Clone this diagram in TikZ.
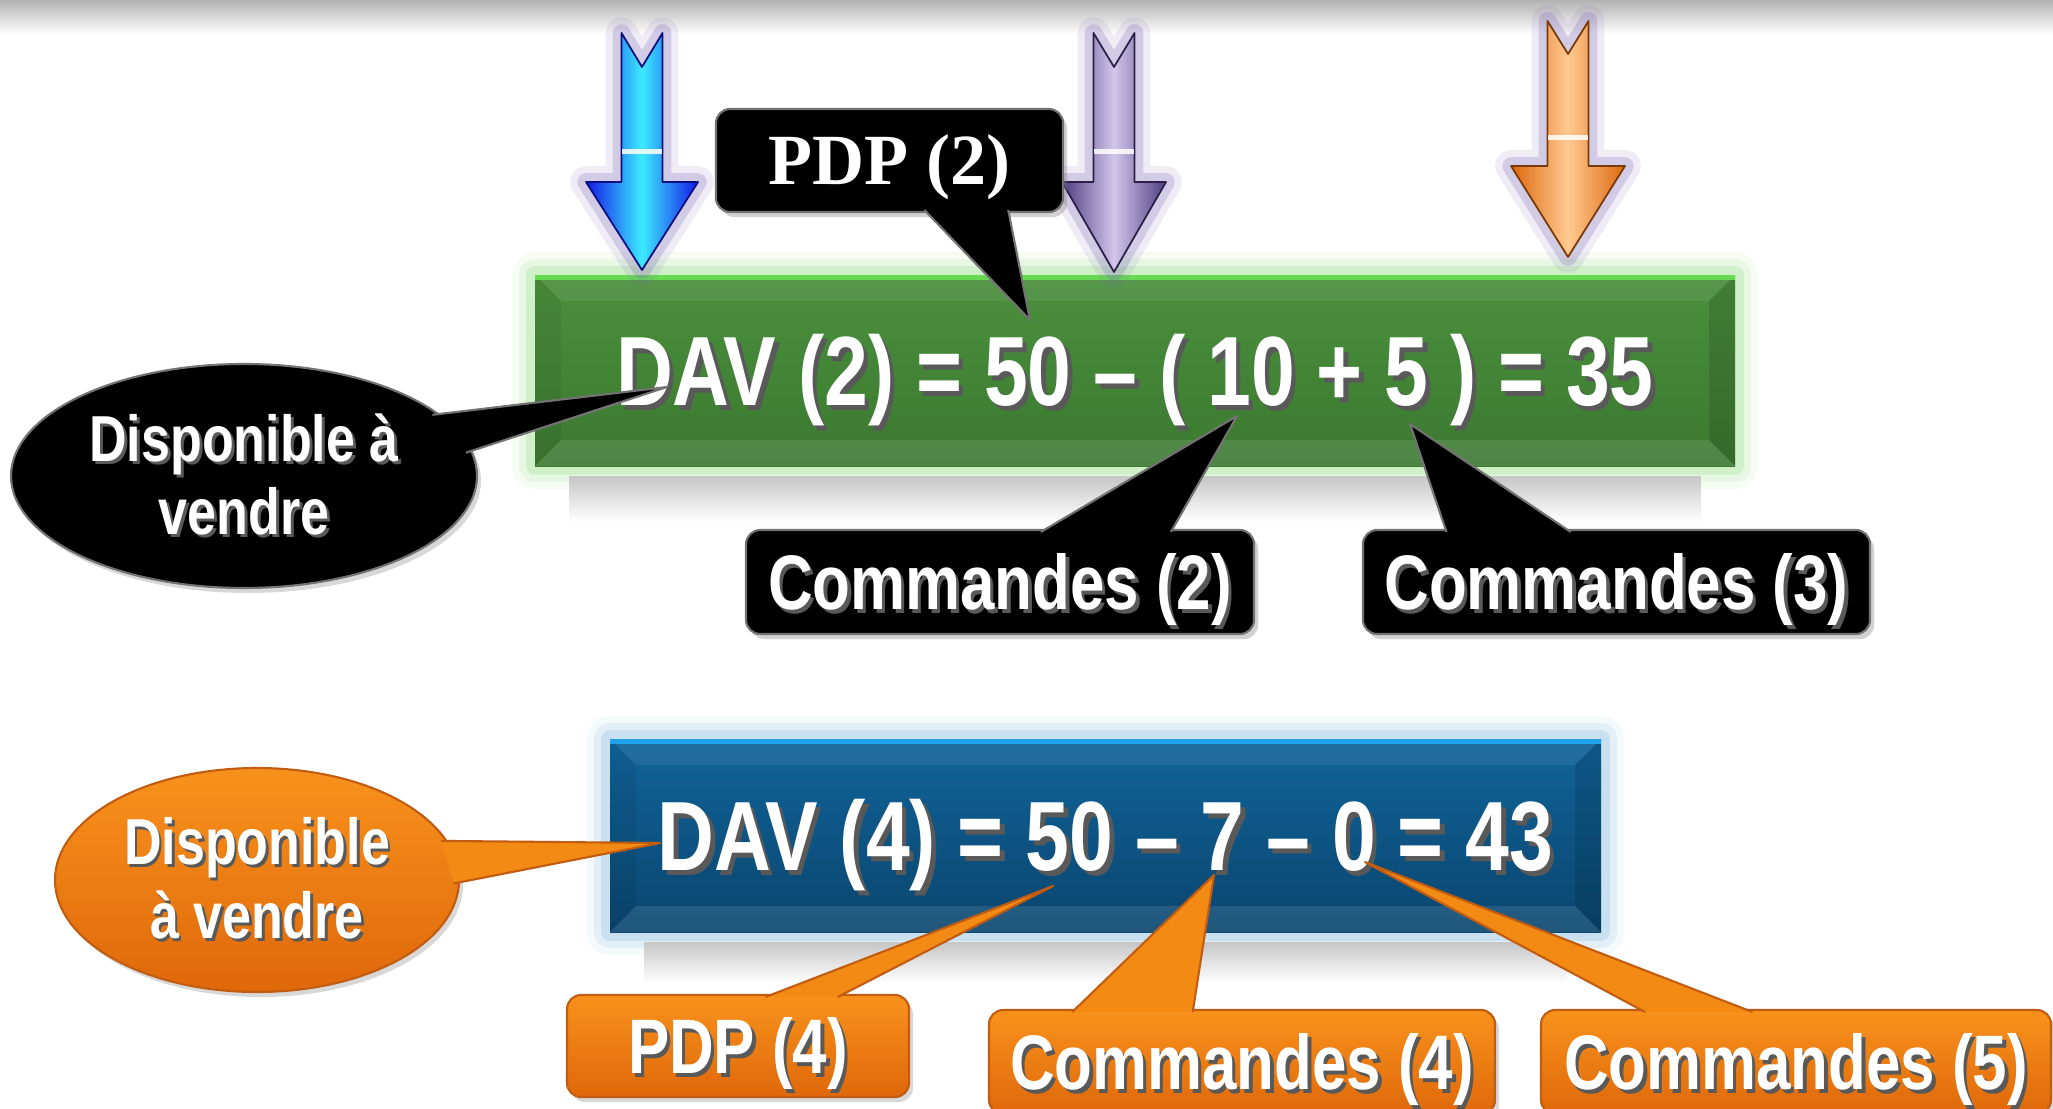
\documentclass[tikz,border=0pt]{standalone}
\usepackage{fontspec}
\usetikzlibrary{calc,shapes.geometric,shadows}

\newfontfamily\narrowsf{Liberation Sans}[FakeStretch=0.8]
\newfontfamily\tagserif{Liberation Serif}

\definecolor{eqgreentop}{HTML}{4B903D}
\definecolor{eqgreenbot}{HTML}{3B7930}
\definecolor{greenrim}{HTML}{68DA52}
\definecolor{greenglow}{HTML}{8EDF7C}
\definecolor{eqbluetop}{HTML}{10649A}
\definecolor{eqbluebot}{HTML}{0A456E}
\definecolor{bluerim}{HTML}{20A2EA}
\definecolor{blueglow}{HTML}{7DB6DE}
\definecolor{tagorangetop}{HTML}{F8921C}
\definecolor{tagorangebot}{HTML}{DF680A}
\definecolor{tagorangeline}{HTML}{C25C10}
\definecolor{tailorange}{HTML}{F38A14}
\definecolor{arrowhalo}{HTML}{7E6AB6}
\definecolor{arrowblue}{HTML}{1418E8}
\definecolor{arrowcyan}{HTML}{3CEBFF}
\definecolor{arrowviolet}{HTML}{4E3C82}
\definecolor{arrowlilac}{HTML}{D2C6EA}
\definecolor{arroworange}{HTML}{DC680E}
\definecolor{arrowpeach}{HTML}{FFC990}

% white lettering over a dark offset copy
\newcommand{\shadowtext}[1]{\makebox[0pt][l]{\hspace{0.045em}\raisebox{-0.045em}{\textcolor{black!65}{#1}}}#1}

\begin{document}
\begin{tikzpicture}[x=1cm, y=1cm, font=\narrowsf\bfseries,
  eqbox/.style={inner sep=0pt, text=white, font=\narrowsf\bfseries\fontsize{28pt}{32pt}\selectfont, text height=20pt, text depth=0pt},
  boxglow/.style={preaction={draw=#1, line width=13pt, opacity=0.08, line join=round},
                  preaction={draw=#1, line width=9pt, opacity=0.14, line join=round},
                  preaction={draw=#1, line width=5pt, opacity=0.25, line join=round}},
  bevel/.style={path picture={
      \coordinate (nw) at (path picture bounding box.north west);
      \coordinate (ne) at (path picture bounding box.north east);
      \coordinate (sw) at (path picture bounding box.south west);
      \coordinate (se) at (path picture bounding box.south east);
      \fill[white, opacity=0.07] (nw) -- (ne) -- ($(ne)+(-0.26,-0.26)$) -- ($(nw)+(0.26,-0.26)$) -- cycle;
      \fill[black, opacity=0.06] (nw) -- ($(nw)+(0.26,-0.26)$) -- ($(sw)+(0.26,0.26)$) -- (sw) -- cycle;
      \fill[black, opacity=0.12] (ne) -- (se) -- ($(se)+(-0.26,0.26)$) -- ($(ne)+(-0.26,-0.26)$) -- cycle;
      \fill[white, opacity=0.10] (sw) -- (se) -- ($(se)+(-0.26,0.26)$) -- ($(sw)+(0.26,0.26)$) -- cycle;
      \fill[#1] (nw) rectangle ($(ne)+(0,-0.05)$);
  }},
  tagfont/.style={font=\narrowsf\bfseries\fontsize{22pt}{26pt}\selectfont, text height=15.7pt, text depth=0pt},
  ovalfont/.style={font=\narrowsf\bfseries\fontsize{18.5pt}{21pt}\selectfont, align=center},
  tagblack/.style={rounded corners=4pt, fill=black, draw=black!55, line width=0.6pt, text=white, inner sep=0pt,
                   drop shadow={opacity=0.35, shadow xshift=0.04cm, shadow yshift=-0.05cm}},
  tagorange/.style={rounded corners=4pt, top color=tagorangetop, bottom color=tagorangebot, draw=tagorangeline,
                    line width=0.6pt, text=white, inner sep=0pt,
                    drop shadow={opacity=0.3, shadow xshift=0.04cm, shadow yshift=-0.05cm}},
  blacktail/.style={fill=black, draw=black!55, line width=0.6pt, line join=round},
  orangetail/.style={fill=tailorange, draw=tagorangeline, line width=0.6pt, line join=round},
  arrowbody/.style 2 args={preaction={draw=arrowhalo, line width=9pt, opacity=0.12, line join=round},
                           preaction={draw=arrowhalo, line width=5pt, opacity=0.25, line join=round},
                           left color=#1, right color=#1, middle color=#2, draw=#1!55!black,
                           line width=0.5pt, line join=round}]

\useasboundingbox (0,0) rectangle (20.53,-11.08);
\fill[white] (0,0) rectangle (20.53,-11.08);

% top rule fading into the page
\shade[top color=black!30, bottom color=white] (0,0) rectangle (20.53,-0.34);

% ==================== EQUATION BOXES ====================
\node[eqbox, top color=eqgreentop, bottom color=eqgreenbot, boxglow=greenglow, bevel=greenrim,
      minimum width=12.00cm, minimum height=1.91cm] (dav2) at (11.35,-3.705)
      {\shadowtext{DAV (2) = 50 – ( 10 + 5 ) = 35}};
\shade[top color=black!22, bottom color=white] ($(dav2.south west)+(0.35,-0.1)$) rectangle ($(dav2.south east)+(-0.35,-0.55)$);

\node[eqbox, top color=eqbluetop, bottom color=eqbluebot, boxglow=blueglow, bevel=bluerim,
      minimum width=9.91cm, minimum height=1.93cm] (dav4) at (11.055,-8.355)
      {\shadowtext{DAV (4) = 50 – 7 – 0 = 43}};
\shade[top color=black!22, bottom color=white] ($(dav4.south west)+(0.35,-0.1)$) rectangle ($(dav4.south east)+(-0.35,-0.5)$);

% ==================== ARROWS ====================
% blue
\begin{scope}[shift={(6.42,-2.70)}]
  \draw[arrowbody={arrowblue}{arrowcyan}] (-0.205,2.37) -- (0,2.03) -- (0.205,2.37) -- (0.205,0.88) -- (0.56,0.88)
    -- (0,0) -- (-0.56,0.88) -- (-0.205,0.88) -- cycle;
  \fill[white, opacity=0.85] (-0.2,1.21) rectangle (0.2,1.16);
\end{scope}

% violet
\begin{scope}[shift={(11.14,-2.72)}]
  \draw[arrowbody={arrowviolet}{arrowlilac}] (-0.205,2.39) -- (0,2.05) -- (0.205,2.39) -- (0.205,0.90) -- (0.52,0.90)
    -- (0,0) -- (-0.52,0.90) -- (-0.205,0.90) -- cycle;
  \fill[white, opacity=0.85] (-0.2,1.23) rectangle (0.2,1.18);
\end{scope}

% orange
\begin{scope}[shift={(15.68,-2.57)}]
  \draw[arrowbody={arroworange}{arrowpeach}] (-0.205,2.36) -- (0,2.03) -- (0.205,2.36) -- (0.205,0.91) -- (0.57,0.91)
    -- (0,0) -- (-0.57,0.91) -- (-0.205,0.91) -- cycle;
  \fill[white, opacity=0.85] (-0.2,1.22) rectangle (0.2,1.17);
\end{scope}

% ==================== BLACK CALLOUTS ====================
\node[tagblack, font=\tagserif\bfseries\fontsize{20.5pt}{24pt}\selectfont, text height=13.6pt, text depth=0pt,
      minimum width=3.47cm, minimum height=1.03cm] (pdp2) at (8.895,-1.605) {PDP (2)};
\node[tagblack, tagfont, minimum width=5.08cm, minimum height=1.04cm] (cmd2) at (10.00,-5.82) {\shadowtext{Commandes (2)}};
\node[tagblack, tagfont, minimum width=5.07cm, minimum height=1.04cm] (cmd3) at (16.165,-5.82) {\shadowtext{Commandes (3)}};
\node[ellipse, fill=black, draw=black!55, line width=0.6pt, text=white, inner sep=0pt, ovalfont,
      minimum width=4.66cm, minimum height=2.24cm,
      drop shadow={opacity=0.3, shadow xshift=0.04cm, shadow yshift=-0.05cm}] (dispo2) at (2.44,-4.76)
      {\shadowtext{Disponible à}\\\shadowtext{vendre}};

\coordinate (tipPdp2) at (10.30,-3.20);
\coordinate (tipCmd2) at (12.37,-4.16);
\coordinate (tipCmd3) at (14.10,-4.24);
\coordinate (tipDispo2) at (6.67,-3.87);

\path[blacktail] ($(pdp2.south west)!0.60!(pdp2.south east)+(0,0.03)$) -- (tipPdp2) -- ($(pdp2.south west)!0.84!(pdp2.south east)+(0,0.03)$);
\path[blacktail] ($(cmd2.north west)!0.58!(cmd2.north east)+(0,-0.03)$) -- (tipCmd2) -- ($(cmd2.north west)!0.835!(cmd2.north east)+(0,-0.03)$);
\path[blacktail] ($(cmd3.north west)!0.166!(cmd3.north east)+(0,-0.03)$) -- (tipCmd3) -- ($(cmd3.north west)!0.41!(cmd3.north east)+(0,-0.03)$);
\path[blacktail] ($(dispo2.18)!0.03!(dispo2.center)$) -- (tipDispo2) -- ($(dispo2.6)!0.03!(dispo2.center)$);

% ==================== ORANGE CALLOUTS ====================
\node[tagorange, tagfont, minimum width=3.42cm, minimum height=1.02cm] (pdp4) at (7.38,-10.46) {\shadowtext{PDP (4)}};
\node[tagorange, tagfont, minimum width=5.06cm, minimum height=1.04cm] (cmd4) at (12.42,-10.62) {\shadowtext{Commandes (4)}};
\node[tagorange, tagfont, minimum width=5.10cm, minimum height=1.04cm] (cmd5) at (17.96,-10.62) {\shadowtext{Commandes (5)}};
\node[ellipse, top color=tagorangetop, bottom color=tagorangebot, draw=tagorangeline, line width=0.6pt, text=white,
      inner sep=0pt, ovalfont, minimum width=4.04cm, minimum height=2.24cm,
      drop shadow={opacity=0.3, shadow xshift=0.04cm, shadow yshift=-0.05cm}] (dispo4) at (2.57,-8.80)
      {\shadowtext{Disponible}\\\shadowtext{à vendre}};

\coordinate (tipPdp4) at (10.53,-8.86);
\coordinate (tipCmd4) at (12.14,-8.75);
\coordinate (tipCmd5) at (13.65,-8.62);
\coordinate (tipDispo4) at (6.60,-8.43);

\path[orangetail] ($(pdp4.north west)!0.58!(pdp4.north east)+(0,-0.03)$) -- (tipPdp4) -- ($(pdp4.north west)!0.79!(pdp4.north east)+(0,-0.03)$);
\path[orangetail] ($(cmd4.north west)!0.166!(cmd4.north east)+(0,-0.03)$) -- (tipCmd4) -- ($(cmd4.north west)!0.403!(cmd4.north east)+(0,-0.03)$);
\path[orangetail] ($(cmd5.north west)!0.205!(cmd5.north east)+(0,-0.03)$) -- (tipCmd5) -- ($(cmd5.north west)!0.415!(cmd5.north east)+(0,-0.03)$);
\path[orangetail] ($(dispo4.12)!0.03!(dispo4.center)$) -- (tipDispo4) -- ($(dispo4.-1)!0.03!(dispo4.center)$);

\end{tikzpicture}
\end{document}
